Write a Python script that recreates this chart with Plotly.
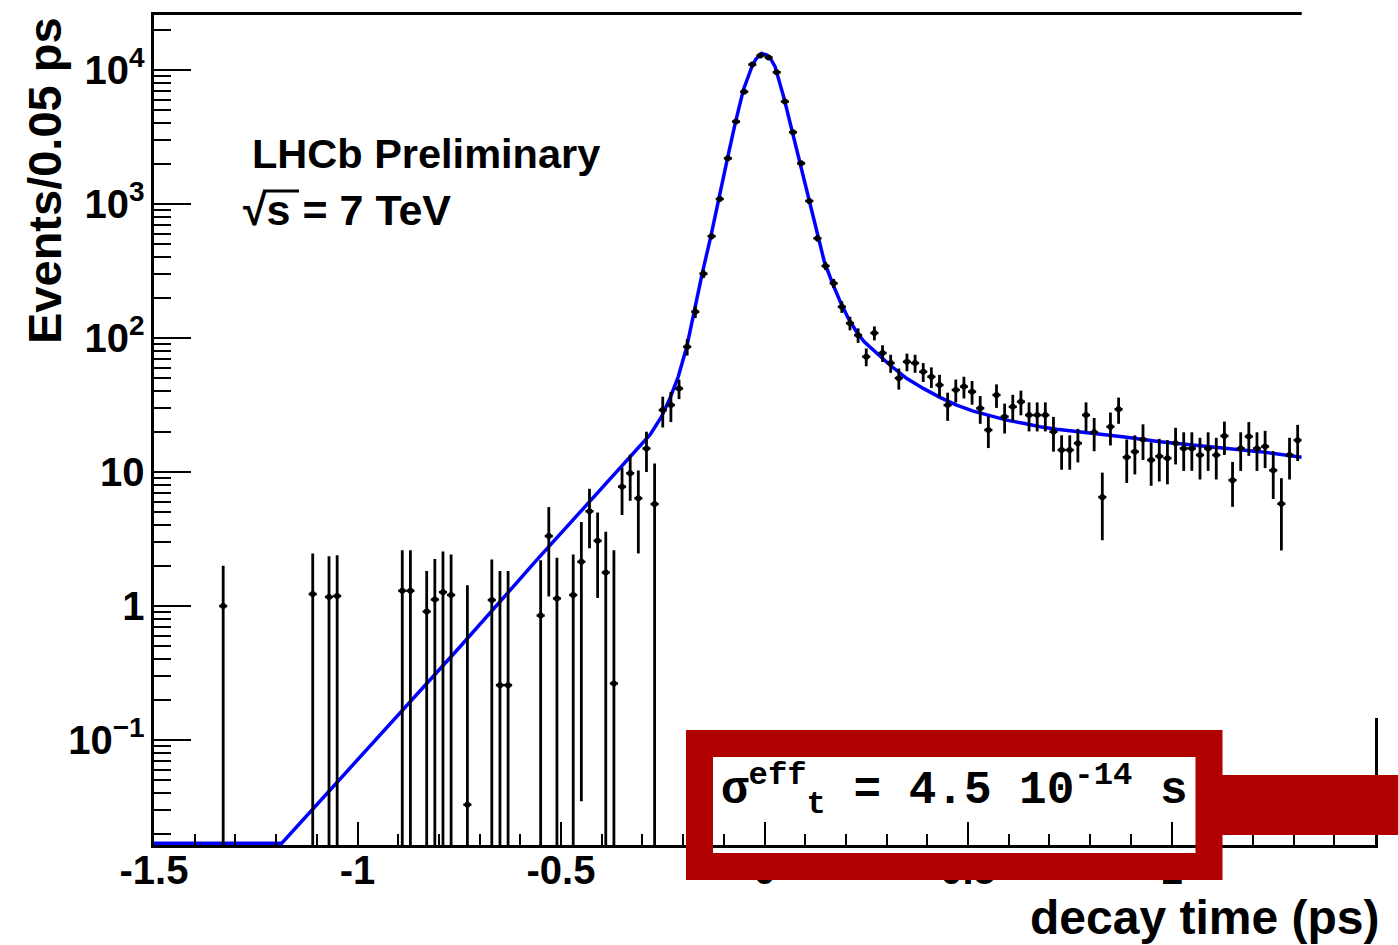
import math
import plotly.graph_objects as go

# ---------------- data ----------------
bin_centers = [
    -1.33, -1.11, -1.07, -1.05, -0.89, -0.87, -0.83, -0.81, -0.79, -0.77,
    -0.73, -0.67, -0.65, -0.63, -0.55, -0.53, -0.51, -0.47, -0.45, -0.43,
    -0.41, -0.39, -0.37, -0.35, -0.33, -0.31, -0.29, -0.27, -0.25, -0.23,
    -0.21, -0.19, -0.17, -0.15, -0.13, -0.11, -0.09, -0.07, -0.05, -0.03,
    -0.01, 0.01, 0.03, 0.05, 0.07, 0.09, 0.11, 0.13, 0.15, 0.17,
    0.19, 0.21, 0.23, 0.25, 0.27, 0.29, 0.31, 0.33, 0.35, 0.37,
    0.39, 0.41, 0.43, 0.45, 0.47, 0.49, 0.51, 0.53, 0.55, 0.57,
    0.59, 0.61, 0.63, 0.65, 0.67, 0.69, 0.71, 0.73, 0.75, 0.77,
    0.79, 0.81, 0.83, 0.85, 0.87, 0.89, 0.91, 0.93, 0.95, 0.97,
    0.99, 1.01, 1.03, 1.05, 1.07, 1.09, 1.11, 1.13, 1.15, 1.17,
    1.19, 1.21, 1.23, 1.25, 1.27, 1.29, 1.31,
]

events = [
    1.0, 1.23, 1.17, 1.19, 1.30, 1.30, 0.91, 1.12, 1.27, 1.21,
    0.033, 1.11, 0.257, 0.257, 0.85, 3.33, 1.14, 1.21, 2.14, 5.1,
    3.07, 1.78, 0.265, 7.78, 9.8, 6.37, 15.0, 5.77, 29.0, 31.6,
    42.0, 86, 157, 302, 575, 1090, 2190, 4120, 6890, 10960,
    12800, 12400, 9620, 5810, 3430, 2010, 1053, 555, 345, 256,
    171, 129, 105, 72.6, 109, 77.3, 65, 50.2, 66.5, 65,
    56, 51.4, 44.6, 31.6, 41, 43.4, 39.8, 29.9, 20.6, 37.6,
    25.9, 30.7, 33.5, 26.6, 26.6, 26.6, 20, 14.6, 14.6, 16.4,
    26.6, 19.8, 6.5, 21.8, 29.4, 12.9, 14.2, 17.5, 12.3, 13.1,
    12.7, 16.4, 15, 15, 13.4, 15, 13.4, 18.6, 8.7, 15,
    18.4, 15, 15.5, 10.3, 5.8, 13.4, 17.3,
]

event_errors = [
    1.0, 1.24, 1.18, 1.2, 1.31, 1.31, 0.92, 1.13, 1.28, 1.22,
    1.40, 1.12, 1.57, 1.57, 1.35, 2.15, 1.15, 1.22, 2.105, 2.4,
    1.92, 1.81, 2.35, 3.0, 3.7, 3.9, 5.0, 5.8, 7.5, 8.0,
    7, 12, 16, 22, 30, 42, 60, 85, 110, 135,
    145, 145, 125, 100, 78, 58, 42, 30, 24, 20,
    17, 15, 13, 11, 13, 11, 10, 9, 10, 10,
    9, 9, 8.5, 7.5, 8, 8, 8, 7, 5.5, 7.5,
    6.5, 7, 7, 6.5, 6.5, 6.5, 5.8, 4.2, 4.2, 4.6,
    6.5, 5.5, 3.4, 6, 6.5, 4.6, 4.6, 5.2, 4.4, 4.6,
    4.6, 5, 4.8, 4.8, 4.6, 4.8, 4.6, 5.2, 3.2, 4.8,
    5.2, 4.8, 4.8, 4, 3.2, 4.6, 5.2,
]

fit_time = [
    -1.5, -1.186, -0.748, -0.560, -0.281, -0.253, -0.232, -0.212, -0.191, -0.173,
    -0.153, -0.132, -0.112, -0.091, -0.072, -0.052, -0.031, -0.021, -0.007, 0.006,
    0.016, 0.026, 0.048, 0.068, 0.089, 0.109, 0.128, 0.147, 0.167, 0.186,
    0.206, 0.227, 0.245, 0.267, 0.308, 0.349, 0.390, 0.431, 0.472, 0.513,
    0.554, 0.595, 0.636, 0.677, 0.718, 0.759, 0.808, 0.890, 0.972, 1.054,
    1.136, 1.217, 1.320,
]
fit_events = [
    0.0170, 0.0170, 0.497, 2.20, 19.0, 25.9, 35.7, 51.4, 86, 162,
    304, 570, 1133, 2190, 4000, 7100, 10590, 12080, 13280, 12940,
    11970, 10590, 6150, 3465, 1954, 1071, 604, 371, 256, 187,
    140, 110, 93.8, 81.3, 62.9, 50.0, 42.1, 36.1, 31.6, 28.5,
    26.2, 24.4, 23.1, 21.8, 20.9, 20.2, 19.6, 18.2, 16.8, 15.9,
    15.0, 14.2, 12.9,
]

x_tick_vals = [-1.5, -1.0, -0.5, 0.0, 0.5, 1.0, 1.5]
x_tick_text = ["-1.5", "-1", "-0.5", "0", "0.5", "1", "1.5"]

# ---------------- layout geometry (pixels) ----------------
W, H = 1398, 945
PL, PR, PT, PB = 154, 1375, 15, 845   # plot-area edges


def xp(px):
    return (px - PL) / (PR - PL)


def yp(py):
    return (PB - py) / (PB - PT)


SANS = "Liberation Sans"
MONO = "Liberation Mono"
RED = "#b00000"

fig = go.Figure()

fig.add_trace(go.Scatter(
    x=fit_time, y=fit_events, mode="lines",
    line=dict(color="#0000ff", width=3.5),
    hoverinfo="skip",
))

fig.add_trace(go.Scatter(
    x=bin_centers, y=events, mode="markers",
    marker=dict(color="black", size=6, symbol="circle"),
    error_y=dict(type="data", array=event_errors, visible=True,
                 color="black", thickness=2.8, width=0),
    error_x=dict(type="constant", value=0.01, visible=True,
                 color="black", thickness=2.5, width=0),
))

fig.update_layout(
    width=W, height=H,
    margin=dict(l=PL, r=W - PR, t=PT, b=H - PB, pad=0),
    paper_bgcolor="white", plot_bgcolor="white",
    showlegend=False,
)

fig.update_xaxes(
    range=[-1.5, 1.5],
    tickmode="array", tickvals=x_tick_vals, ticktext=x_tick_text,
    ticks="inside", ticklen=23, tickwidth=2, tickcolor="black",
    ticklabelstandoff=-12,
    showline=True, linewidth=3, linecolor="black", mirror=True,
    showgrid=False, zeroline=False,
    tickfont=dict(family=SANS, size=40, color="black", weight="bold"),
    minor=dict(ticks="inside", dtick=0.1, tick0=-1.5, ticklen=11,
               tickwidth=2, tickcolor="black", showgrid=False),
)

fig.update_yaxes(
    type="log",
    range=[math.log10(0.0165), 4.41],
    dtick=1, exponentformat="power",
    ticks="inside", ticklen=37, tickwidth=2, tickcolor="black",
    showline=True, linewidth=3, linecolor="black", mirror=True,
    showgrid=False, zeroline=False,
    tickfont=dict(family=SANS, size=32, color="black", weight="bold"),
    minor=dict(ticks="inside", dtick="D1", ticklen=17,
               tickwidth=2, tickcolor="black", showgrid=False),
)

cover_x0 = (1.32 + 1.5) / 3.0   # right edge of the last bin, in paper units

shapes = [
    # white patch covering the cut right part of the original picture
    dict(type="rect", xref="paper", yref="paper",
         x0=cover_x0, x1=xp(1400), y0=yp(718), y1=yp(-2),
         fillcolor="white", line=dict(width=0), layer="above"),
    # overline of the square root
    dict(type="line", xref="paper", yref="paper",
         x0=xp(263), x1=xp(299), y0=yp(191), y1=yp(191),
         line=dict(color="black", width=3)),
    # red frame around the resolution text
    dict(type="rect", xref="paper", yref="paper",
         x0=xp(699.5), x1=xp(1209), y0=yp(743.5), y1=yp(866.5),
         fillcolor="rgba(0,0,0,0)", line=dict(color=RED, width=27),
         layer="above"),
    # red bar to the right
    dict(type="rect", xref="paper", yref="paper",
         x0=xp(1222), x1=xp(1400), y0=yp(775), y1=yp(835),
         fillcolor=RED, line=dict(width=0), layer="above"),
]
fig.update_layout(shapes=shapes)

annotations = [
    dict(text="LHCb Preliminary", x=xp(250), y=yp(153),
         xanchor="left", yanchor="middle",
         font=dict(family=SANS, size=41.5, color="black", weight="bold")),
    dict(text="√s = 7 TeV", x=xp(241), y=yp(210),
         xanchor="left", yanchor="middle",
         font=dict(family=SANS, size=43, color="black", weight="bold")),
    dict(text="decay time (ps)", x=xp(1381), y=yp(917),
         xanchor="right", yanchor="middle",
         font=dict(family=SANS, size=48, color="black", weight="bold")),
    dict(text="Events/0.05 ps", x=xp(45), y=yp(181), textangle=-90,
         xanchor="center", yanchor="middle",
         font=dict(family=SANS, size=47, color="black", weight="bold")),
    dict(text="σ<sup>eff</sup><sub>t</sub> = 4.5 10<sup>-14</sup> s",
         x=xp(954), y=yp(790), xanchor="center", yanchor="middle",
         font=dict(family=MONO, size=46, color="black", weight="bold")),
]
for a in annotations:
    a["xref"] = "paper"
    a["yref"] = "paper"
    a["showarrow"] = False
fig.update_layout(annotations=annotations)

fig.write_html("out.html")
